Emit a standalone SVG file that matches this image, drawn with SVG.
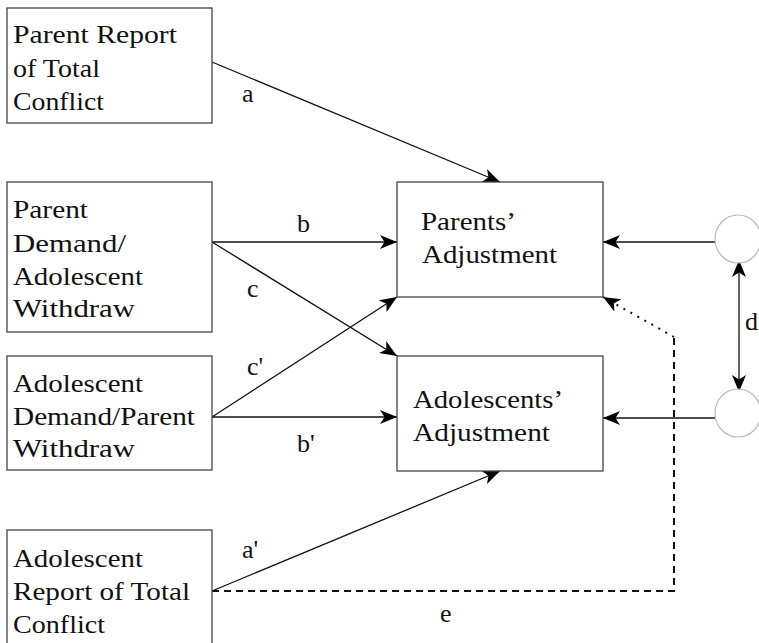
<svg xmlns="http://www.w3.org/2000/svg" width="759" height="643" viewBox="0 0 759 643">
<style>
.box{fill:#fff;stroke:#444;stroke-width:1.3}
.t{font-family:'Liberation Serif','Times New Roman',serif;font-size:26px;fill:#111}
.ln{fill:none;stroke:#111;stroke-width:1.3}
.dash{fill:none;stroke:#111;stroke-width:2;stroke-dasharray:7,5}
.dot{fill:none;stroke:#111;stroke-width:2;stroke-dasharray:2,6}
.circ{fill:#fff;stroke:#bbb;stroke-width:1.2}
</style>
<defs>
<marker id="ah" markerUnits="userSpaceOnUse" markerWidth="18" markerHeight="14" refX="17" refY="7" orient="auto-start-reverse" viewBox="0 0 18 14">
<path d="M0,0 L17,7 L0,14 L4.5,7 z" fill="#000"/>
</marker>
</defs>
<g id="connectors">
<line class="ln" x1="212" y1="62" x2="500" y2="182" marker-end="url(#ah)"/>
<line class="ln" x1="212" y1="242" x2="397" y2="242" marker-end="url(#ah)"/>
<line class="ln" x1="212" y1="242" x2="397" y2="356" marker-end="url(#ah)"/>
<line class="ln" x1="212" y1="417" x2="397" y2="297" marker-end="url(#ah)"/>
<line class="ln" x1="212" y1="417" x2="397" y2="417" marker-end="url(#ah)"/>
<line class="ln" x1="212" y1="591" x2="500" y2="471" marker-end="url(#ah)"/>
<line class="ln" x1="715" y1="242" x2="603" y2="242" marker-end="url(#ah)"/>
<line class="ln" x1="715" y1="418" x2="603" y2="418" marker-end="url(#ah)"/>
<line class="ln" x1="739" y1="260" x2="739" y2="392" marker-start="url(#ah)" marker-end="url(#ah)"/>
<path class="dash" d="M212,591 H674 V337"/>
<path class="dot" d="M674,337 L603,297" marker-end="url(#ah)"/>
<text class="t" x="242" y="102">a</text>
<text class="t" x="297" y="232">b</text>
<text class="t" x="247" y="297">c</text>
<text class="t" x="247" y="375">c'</text>
<text class="t" x="297" y="452">b'</text>
<text class="t" x="242" y="558">a'</text>
<text class="t" x="745" y="330">d</text>
<text class="t" x="440" y="622">e</text>
</g>
<g id="parent-report">
<rect class="box" x="7" y="8" width="205" height="115"/>
<text class="t" x="13" y="43" textLength="164" lengthAdjust="spacingAndGlyphs">Parent Report</text>
<text class="t" x="13" y="77" textLength="87" lengthAdjust="spacingAndGlyphs">of Total</text>
<text class="t" x="13" y="110" textLength="91" lengthAdjust="spacingAndGlyphs">Conflict</text>
</g>
<g id="parent-demand">
<rect class="box" x="7" y="182" width="205" height="150"/>
<text class="t" x="13" y="218" textLength="75" lengthAdjust="spacingAndGlyphs">Parent</text>
<text class="t" x="13" y="252" textLength="113" lengthAdjust="spacingAndGlyphs">Demand/</text>
<text class="t" x="13" y="285" textLength="130" lengthAdjust="spacingAndGlyphs">Adolescent</text>
<text class="t" x="13" y="317" textLength="122" lengthAdjust="spacingAndGlyphs">Withdraw</text>
</g>
<g id="adolescent-demand">
<rect class="box" x="7" y="356" width="205" height="114"/>
<text class="t" x="13" y="392" textLength="130" lengthAdjust="spacingAndGlyphs">Adolescent</text>
<text class="t" x="13" y="425" textLength="182" lengthAdjust="spacingAndGlyphs">Demand/Parent</text>
<text class="t" x="13" y="457" textLength="122" lengthAdjust="spacingAndGlyphs">Withdraw</text>
</g>
<g id="adolescent-report">
<rect class="box" x="7" y="530" width="205" height="125"/>
<text class="t" x="13" y="567" textLength="130" lengthAdjust="spacingAndGlyphs">Adolescent</text>
<text class="t" x="13" y="600" textLength="177" lengthAdjust="spacingAndGlyphs">Report of Total</text>
<text class="t" x="13" y="633" textLength="92" lengthAdjust="spacingAndGlyphs">Conflict</text>
</g>
<g id="parents-adjustment">
<rect class="box" x="397" y="182" width="206" height="115"/>
<text class="t" x="421" y="230" textLength="95" lengthAdjust="spacingAndGlyphs">Parents’</text>
<text class="t" x="422" y="263" textLength="135" lengthAdjust="spacingAndGlyphs">Adjustment</text>
</g>
<g id="adolescents-adjustment">
<rect class="box" x="397" y="356" width="206" height="115"/>
<text class="t" x="413" y="408" textLength="150" lengthAdjust="spacingAndGlyphs">Adolescents’</text>
<text class="t" x="413" y="441" textLength="137" lengthAdjust="spacingAndGlyphs">Adjustment</text>
</g>
<g id="error-parent">
<ellipse class="circ" cx="738" cy="239" rx="23" ry="24"/>
</g>
<g id="error-adolescent">
<ellipse class="circ" cx="738" cy="413" rx="23" ry="24"/>
</g>
</svg>
